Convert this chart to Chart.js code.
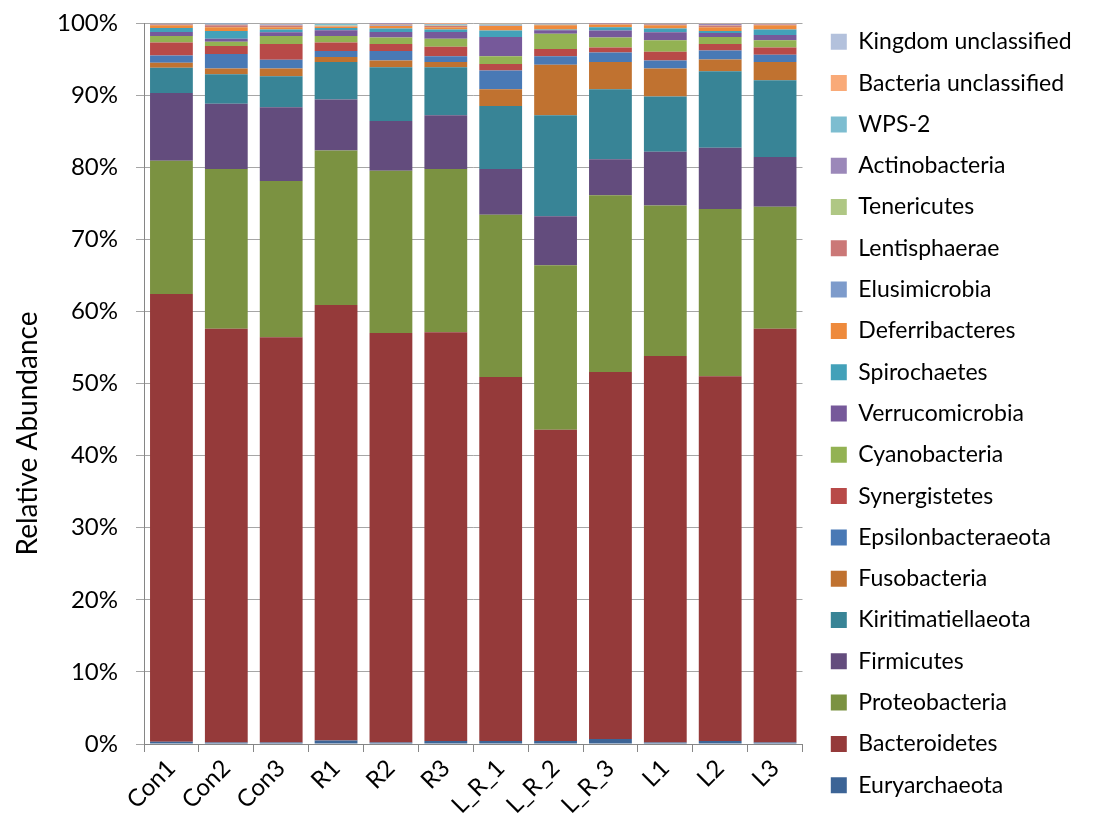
<!DOCTYPE html>
<html>
<head>
<meta charset="utf-8">
<script src="https://cdn.jsdelivr.net/npm/chart.js@4.4.1/dist/chart.umd.min.js"></script>
<style>
html,body{margin:0;padding:0;background:#fff;overflow:hidden;}
#wrap{width:1095px;height:827px;}
</style>
</head>
<body>
<div id="wrap"><canvas id="c" width="1095" height="827"></canvas></div>
<script>
const samples = ["Con1","Con2","Con3","R1","R2","R3","L_R_1","L_R_2","L_R_3","L1","L2","L3"];

const euryarchaeota      = [0.3, 0.2, 0.2, 0.5, 0.2, 0.4, 0.4, 0.4, 0.7, 0.2, 0.4, 0.2];
const bacteroidetes      = [62.1, 57.4, 56.2, 60.4, 56.8, 56.7, 50.5, 43.2, 50.9, 53.6, 50.6, 57.4];
const proteobacteria     = [18.5, 22.15, 21.7, 21.4, 22.5, 22.65, 22.5, 22.8, 24.5, 20.9, 23.2, 16.9];
const firmicutes         = [9.4, 9.05, 10.2, 7.1, 6.9, 7.45, 6.35, 6.8, 5.0, 7.45, 8.5, 6.9];
const kiritimatiellaeota = [3.5, 4.1, 4.3, 5.2, 7.45, 6.65, 8.75, 14.0, 9.7, 7.65, 10.6, 10.65];
const fusobacteria       = [0.7, 0.8, 1.1, 0.7, 0.95, 0.75, 2.3, 7.0, 3.8, 3.9, 1.65, 2.55];
const epsilonbacteraeota = [1.0, 2.0, 1.2, 0.8, 1.3, 0.8, 2.6, 1.2, 1.3, 1.1, 1.25, 1.0];
const synergistetes      = [1.8, 1.1, 2.2, 1.2, 1.0, 1.3, 0.9, 1.0, 0.7, 1.2, 0.9, 1.0];
const cyanobacteria      = [0.9, 0.6, 1.1, 0.9, 0.9, 1.1, 1.1, 2.1, 1.4, 1.6, 0.95, 1.0];
const verrucomicrobia    = [0.55, 0.4, 0.5, 0.8, 0.75, 0.95, 2.65, 0.5, 0.95, 1.1, 0.55, 0.75];
const spirochaetes       = [0.55, 1.1, 0.4, 0.3, 0.5, 0.35, 0.9, 0.1, 0.45, 0.55, 0.3, 0.75];
const deferribacteres    = [0.4, 0.5, 0.3, 0.2, 0.35, 0.3, 0.65, 0.6, 0.4, 0.45, 0.5, 0.6];
const elusimicrobia      = [0.05, 0.05, 0.05, 0.05, 0.05, 0.05, 0.05, 0.05, 0.03, 0.05, 0.05, 0.03];
const lentisphaerae      = [0.1, 0.25, 0.2, 0.05, 0.15, 0.15, 0.05, 0.05, 0.05, 0.1, 0.2, 0.05];
const tenericutes        = [0.05, 0.05, 0.05, 0.05, 0.05, 0.05, 0.05, 0.05, 0.02, 0.05, 0.05, 0.02];
const actinobacteria     = [0.05, 0.15, 0.1, 0.05, 0.1, 0.1, 0.05, 0.05, 0.05, 0.05, 0.15, 0.05];
const wps2               = [0.02, 0.05, 0.1, 0.2, 0.02, 0.1, 0.1, 0.03, 0.02, 0.02, 0.05, 0.05];
const bacteriaUncl       = [0.02, 0.03, 0.05, 0.02, 0.02, 0.1, 0.05, 0.05, 0.02, 0.02, 0.05, 0.08];
const kingdomUncl        = [0.01, 0.02, 0.05, 0.08, 0.01, 0.05, 0.05, 0.02, 0.01, 0.01, 0.05, 0.02];

const yTicks = [0,10,20,30,40,50,60,70,80,90,100];
const yTitle = "Relative Abundance";

const seriesNames = ["Euryarchaeota","Bacteroidetes","Proteobacteria","Firmicutes","Kiritimatiellaeota","Fusobacteria","Epsilonbacteraeota","Synergistetes","Cyanobacteria","Verrucomicrobia","Spirochaetes","Deferribacteres","Elusimicrobia","Lentisphaerae","Tenericutes","Actinobacteria","WPS-2","Bacteria unclassified","Kingdom unclassified"];
const seriesData = [euryarchaeota,bacteroidetes,proteobacteria,firmicutes,kiritimatiellaeota,fusobacteria,epsilonbacteraeota,synergistetes,cyanobacteria,verrucomicrobia,spirochaetes,deferribacteres,elusimicrobia,lentisphaerae,tenericutes,actinobacteria,wps2,bacteriaUncl,kingdomUncl];
const seriesColors = ["#3C6496","#953A3A","#7B9241","#634C7D","#388496","#C07230","#4979B5","#B84A48","#93B253","#76599A","#43A1B9","#EE8A3C","#7D9BCB","#CB7877","#AFC784","#9B88B9","#7DBDD0","#F9AA78","#B3C1DC"];

const FONT = "Lato, 'Open Sans', sans-serif";

const datasets = seriesNames.map((n,i)=>({
  label: n,
  data: seriesData[i],
  backgroundColor: seriesColors[i],
  borderWidth: 0,
  barPercentage: 0.78,
  categoryPercentage: 1.0
}));

const yTitlePlugin = {
  id: 'yTitle',
  afterLayout(chart) {
    // leave a small gap between the plot and the legend
    if (chart.legend) { chart.legend.left += 10; chart.legend.right += 10; }
  },
  afterDraw(chart) {
    const {ctx, chartArea} = chart;
    ctx.save();
    ctx.font = "28px " + FONT;
    ctx.fillStyle = '#000';
    ctx.textAlign = 'center';
    ctx.textBaseline = 'middle';
    ctx.translate(28, (chartArea.top + chartArea.bottom) / 2 + 50);
    ctx.rotate(-Math.PI / 2);
    ctx.fillText(yTitle, 0, 0);
    ctx.restore();
  }
};

new Chart(document.getElementById('c'), {
  type: 'bar',
  data: { labels: samples, datasets },
  plugins: [yTitlePlugin],
  options: {
    responsive: false,
    animation: false,
    devicePixelRatio: 1,
    layout: { padding: { top: 0, left: 0, right: 25, bottom: 0 } },
    plugins: {
      tooltip: { enabled: false },
      legend: {
        position: 'right',
        reverse: true,
        labels: {
          boxWidth: 16, boxHeight: 16, padding: 18.3,
          color: '#000',
          font: { family: FONT, size: 23 }
        }
      }
    },
    scales: {
      x: {
        stacked: true,
        offset: true,
        afterFit: (ax) => { ax.height = 83; },
        grid: { display: true, drawOnChartArea: false, drawTicks: true, tickLength: 8, offset: true, color: '#868686' },
        border: { color: '#868686' },
        ticks: { color: '#000', maxRotation: 45, minRotation: 45, font: { family: FONT, size: 24 }, padding: 2 }
      },
      y: {
        stacked: true,
        min: 0, max: 100,
        afterBuildTicks: (ax) => { ax.ticks = yTicks.map(v => ({ value: v })); },
        afterFit: (ax) => { ax.width = 144; ax.paddingTop = 23; },
        grid: { color: '#A6A6A6', tickLength: 8 },
        border: { color: '#868686' },
        ticks: { color: '#000', font: { family: FONT, size: 24 }, padding: 18, callback: v => v + '%' }
      }
    }
  }
});
</script>
</body>
</html>
